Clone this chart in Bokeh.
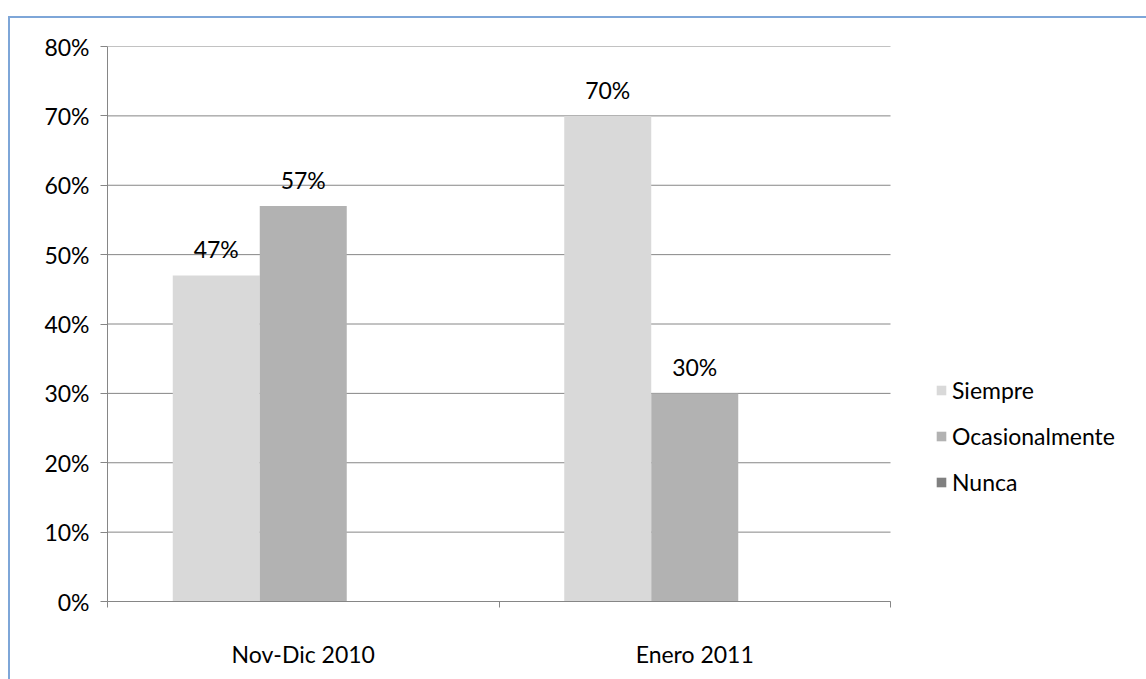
from bokeh.plotting import figure
from bokeh.models import (ColumnDataSource, FixedTicker, NumeralTickFormatter,
                          Legend, LegendItem, Range1d, InlineStyleSheet)
from bokeh.core.properties import value
from bokeh.embed import file_html
from bokeh.resources import INLINE

# Survey answers per period (share of respondents)
categories = ["Nov-Dic 2010", "Enero 2011"]
series_names = ["Siempre", "Ocasionalmente", "Nunca"]
siempre = [0.47, 0.70]
ocasionalmente = [0.57, 0.30]
nunca = [0.0, 0.0]
y_ticks = [0.0, 0.1, 0.2, 0.3, 0.4, 0.5, 0.6, 0.7, 0.8]

colors = ["#d9d9d9", "#b2b2b2", "#808080"]
FONT = "Lato"
FS = "23px"

W, H = 1146, 679
LEFT, TOP, BOTTOM = 107, 46, 78
PLOT_W = 783  # width of the category area; the rest on the right holds the legend
n = len(categories)
x_end = n * (W - LEFT) / PLOT_W

p = figure(width=W, height=H, output_backend="svg", toolbar_location=None,
           x_range=Range1d(0, x_end), y_range=Range1d(0, 0.8))
p.min_border_left = LEFT
p.min_border_right = 0
p.min_border_top = TOP
p.min_border_bottom = BOTTOM
p.outline_line_color = None
p.background_fill_color = "white"
p.border_fill_color = "white"

# light blue chart-area border along the top and left edges
p.stylesheets = [InlineStyleSheet(css="""
:host::after {
  content: "";
  position: absolute;
  left: 8px; top: 16px; right: 0; bottom: 0;
  border-left: 2px solid #7ea6d8;
  border-top: 2px solid #7ea6d8;
  pointer-events: none;
  z-index: 10;
}
""")]

# horizontal gridlines limited to the category area
p.xgrid.visible = False
p.ygrid.visible = False
p.segment(x0=[0] * len(y_ticks), x1=[n] * len(y_ticks), y0=y_ticks, y1=y_ticks,
          line_color="#868686", line_width=1)

bar_w = 2 / 9
offsets = [-bar_w, 0.0, bar_w]
all_series = [siempre, ocasionalmente, nunca]

label_x, label_y, label_txt = [], [], []
renderers = []
for name, vals, off, col in zip(series_names, all_series, offsets, colors):
    xs = [i + 0.5 + off for i in range(n)]
    src = ColumnDataSource(dict(x=xs, top=vals))
    r = p.vbar(x="x", top="top", width=bar_w, source=src,
               fill_color=col, line_color=None)
    renderers.append((name, r))
    for x, v in zip(xs, vals):
        if v > 0:
            label_x.append(x)
            label_y.append(v)
            label_txt.append(f"{round(v * 100)}%")

lbl_src = ColumnDataSource(dict(x=label_x, y=label_y, t=label_txt))
p.text(x="x", y="y", text="t", source=lbl_src, text_align="center",
       text_baseline="middle", y_offset=-26, text_font=value(FONT),
       text_font_size=FS, text_color="black")

# axes
ya = p.yaxis[0]
ya.ticker = FixedTicker(ticks=y_ticks, minor_ticks=[])
ya.formatter = NumeralTickFormatter(format="0%")
ya.axis_line_color = "#868686"
ya.major_tick_line_color = "#868686"
ya.major_tick_in = 0
ya.major_tick_out = 7
ya.minor_tick_line_color = None
ya.major_label_standoff = 11
ya.major_label_text_font = FONT
ya.major_label_text_font_size = FS
ya.major_label_text_color = "black"

xa = p.xaxis[0]
xa.bounds = (0, n)
xa.ticker = FixedTicker(ticks=[i + 0.5 for i in range(n)],
                        minor_ticks=list(range(n + 1)))
xa.major_label_overrides = {i + 0.5: c for i, c in enumerate(categories)}
xa.axis_line_color = "#868686"
xa.major_tick_line_color = None
xa.major_tick_in = 0
xa.major_tick_out = 0
xa.minor_tick_line_color = "#868686"
xa.minor_tick_in = 0
xa.minor_tick_out = 6
xa.major_label_standoff = 32
xa.major_label_text_font = FONT
xa.major_label_text_font_size = FS
xa.major_label_text_color = "black"

legend = Legend(items=[LegendItem(label=s, renderers=[r]) for s, r in renderers],
                location=(828, 105), orientation="vertical",
                glyph_width=12, glyph_height=12, label_height=20,
                spacing=18, padding=0, margin=0, label_standoff=5,
                border_line_color=None, background_fill_alpha=0,
                label_text_font=FONT, label_text_font_size=FS,
                label_text_color="black")
p.add_layout(legend, "center")

open("out.html", "w").write(file_html(p, INLINE))
